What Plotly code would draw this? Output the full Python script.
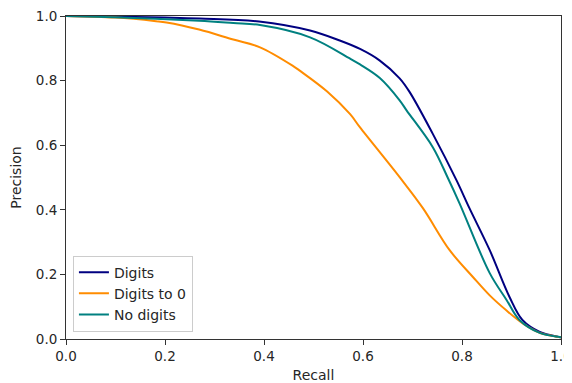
import plotly.graph_objects as go

# Recall / precision values
digits_recall = [0.0, 0.10, 0.20, 0.27, 0.39, 0.493, 0.553, 0.594, 0.634, 0.674, 0.694, 0.741, 0.789, 0.815, 0.856, 0.896, 0.922, 0.957, 0.997, 1.0]
digits_precision = [1.0, 0.998, 0.995, 0.992, 0.983, 0.955, 0.924, 0.898, 0.862, 0.807, 0.765, 0.635, 0.491, 0.405, 0.275, 0.130, 0.059, 0.022, 0.006, 0.005]

zero_recall = [0.0, 0.10, 0.182, 0.203, 0.269, 0.338, 0.392, 0.459, 0.473, 0.527, 0.574, 0.594, 0.674, 0.721, 0.775, 0.822, 0.856, 0.890, 0.922, 0.957, 0.997, 1.0]
zero_precision = [1.0, 0.995, 0.984, 0.980, 0.958, 0.927, 0.903, 0.845, 0.830, 0.767, 0.696, 0.655, 0.501, 0.405, 0.275, 0.192, 0.135, 0.088, 0.049, 0.019, 0.006, 0.005]

nodig_recall = [0.0, 0.136, 0.269, 0.338, 0.392, 0.493, 0.574, 0.594, 0.634, 0.674, 0.688, 0.741, 0.771, 0.795, 0.856, 0.890, 0.916, 0.957, 0.997, 1.0]
nodig_precision = [1.0, 0.994, 0.985, 0.978, 0.972, 0.934, 0.868, 0.850, 0.808, 0.739, 0.708, 0.594, 0.500, 0.420, 0.204, 0.121, 0.059, 0.019, 0.006, 0.005]

series_names = ["Digits", "Digits to 0", "No digits"]
series_colors = ["#000080", "#FF8C00", "#008080"]

fig = go.Figure()
for name, color, xs, ys in zip(series_names, series_colors,
                               [digits_recall, zero_recall, nodig_recall],
                               [digits_precision, zero_precision, nodig_precision]):
    fig.add_trace(go.Scatter(x=xs, y=ys, mode="lines", name=name,
                             line=dict(color=color, width=2, shape="spline", smoothing=1.0)))

font_family = "DejaVu Sans"
axis_common = dict(
    range=[0, 1], showgrid=False, zeroline=False, automargin=False,
    showline=True, linecolor="#333333", linewidth=1, mirror=True,
    ticks="outside", ticklen=5, tickwidth=1, tickcolor="#333333",
    tickvals=[0, 0.2, 0.4, 0.6, 0.8, 1.0],
    ticktext=["0.0", "0.2", "0.4", "0.6", "0.8", "1.0"],
    tickfont=dict(family=font_family, size=13.5, color="#262626"),
    ticklabeloverflow="allow",
)

# The page body adds an 8px offset; size and margins compensate so the plot area lands where the reference has it
fig.update_layout(
    width=564, height=375,
    margin=dict(l=57.5, r=10.5, t=7.5, b=44, autoexpand=False),
    paper_bgcolor="white", plot_bgcolor="white",
    font=dict(family=font_family, size=14, color="#262626"),
    xaxis=dict(**axis_common, title=dict(text="Recall", standoff=6,
                                         font=dict(family=font_family, size=14, color="#262626"))),
    yaxis=dict(**axis_common, title=dict(text="Precision", standoff=10,
                                         font=dict(family=font_family, size=14, color="#262626"))),
    legend=dict(x=0.014, y=0.023, xanchor="left", yanchor="bottom",
                bgcolor="rgba(255,255,255,0.8)", bordercolor="#cccccc", borderwidth=1,
                font=dict(family=font_family, size=14, color="#262626"),
                tracegroupgap=0),
    showlegend=True,
)

fig.write_html("out.html")
